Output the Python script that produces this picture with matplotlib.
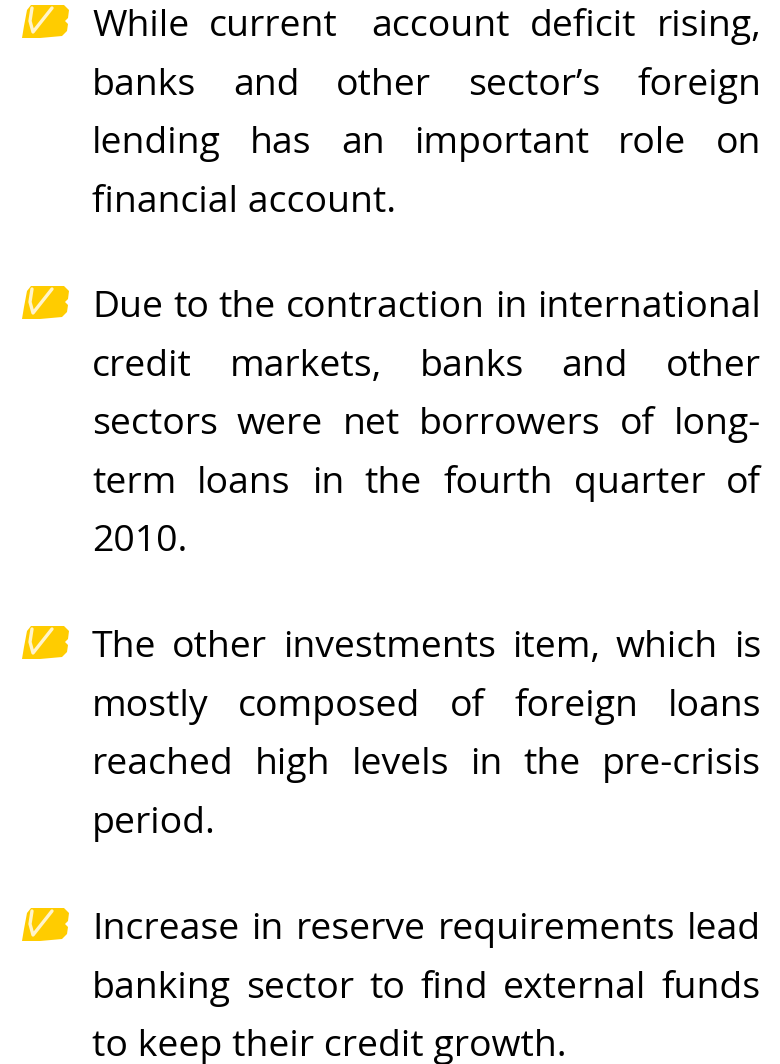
import matplotlib
matplotlib.use("Agg")
import matplotlib.pyplot as plt
from matplotlib.patches import Polygon
from matplotlib.font_manager import FontProperties

# one list per bullet, one string per line
bullet1 = ["While current  account deficit rising,", "banks and other sector\u2019s foreign",
           "lending has an important role on", "financial account."]
bullet2 = ["Due to the contraction in international", "credit markets, banks and other",
           "sectors were net borrowers of long-", "term loans in the fourth quarter of", "2010."]
bullet3 = ["The other investments item, which is", "mostly composed of foreign loans",
           "reached high levels in the pre-crisis", "period."]
bullet4 = ["Increase in reserve requirements lead", "banking sector to find external funds",
           "to keep their credit growth."]
bullets = [bullet1, bullet2, bullet3, bullet4]
first_y = [36, 317, 657, 939]  # baselines

LEFT = 92
RIGHT = 761
PITCH = 58.6
SIZE = 26.9
EXTRA_SPACE = 14  # a double space in the text is this much wider
font = FontProperties(family="Open Sans", size=SIZE)

fig = plt.figure(figsize=(7.8, 10.64), dpi=100)
ax = fig.add_axes([0, 0, 1, 1])
ax.set_xlim(0, 780)
ax.set_ylim(1064, 0)
ax.axis("off")


def text_w(s):
    # width in pixels, from the renderer so that it is the real advance
    t = ax.text(0, 0, s, fontproperties=font)
    w = t.get_window_extent(fig.canvas.get_renderer()).width
    t.remove()
    return w


def draw_line(s, y, justify):
    if not justify:
        ax.text(LEFT, y, s, fontproperties=font, va="baseline", ha="left", color="black")
        return
    parts = s.split(" ")
    words = [p for p in parts if p]
    extra = EXTRA_SPACE * (len(parts) - len(words))
    total = sum(text_w(w) for w in words) + extra
    gap = (RIGHT - LEFT - total) / (len(words) - 1)
    x = LEFT
    for p in parts:
        if not p:
            x += EXTRA_SPACE
            continue
        ax.text(x, y, p, fontproperties=font, va="baseline", ha="left", color="black")
        x += text_w(p) + gap


def draw_mark(y):
    # y is the text baseline, mark spans about y-31 to y+2
    ax.add_patch(Polygon([(22, y + 2), (24, y - 10), (27, y - 26), (31, y - 31), (64, y - 31), (69, y - 26),
                          (68, y - 18), (65, y - 15), (68, y - 12), (67, y - 5), (62, y + 0), (40, y + 2)],
                         closed=True, fc="#ffcc00", ec="none"))
    ax.plot([32, 30, 33, 52], [y - 28, y - 15, y - 4, y - 28], color="#fff4cc", lw=2.4, solid_capstyle="round")


for lines, y0 in zip(bullets, first_y):
    draw_mark(y0)
    for i, s in enumerate(lines):
        draw_line(s, y0 + i * PITCH, i < len(lines) - 1)

fig.savefig("out.png", dpi=100)
